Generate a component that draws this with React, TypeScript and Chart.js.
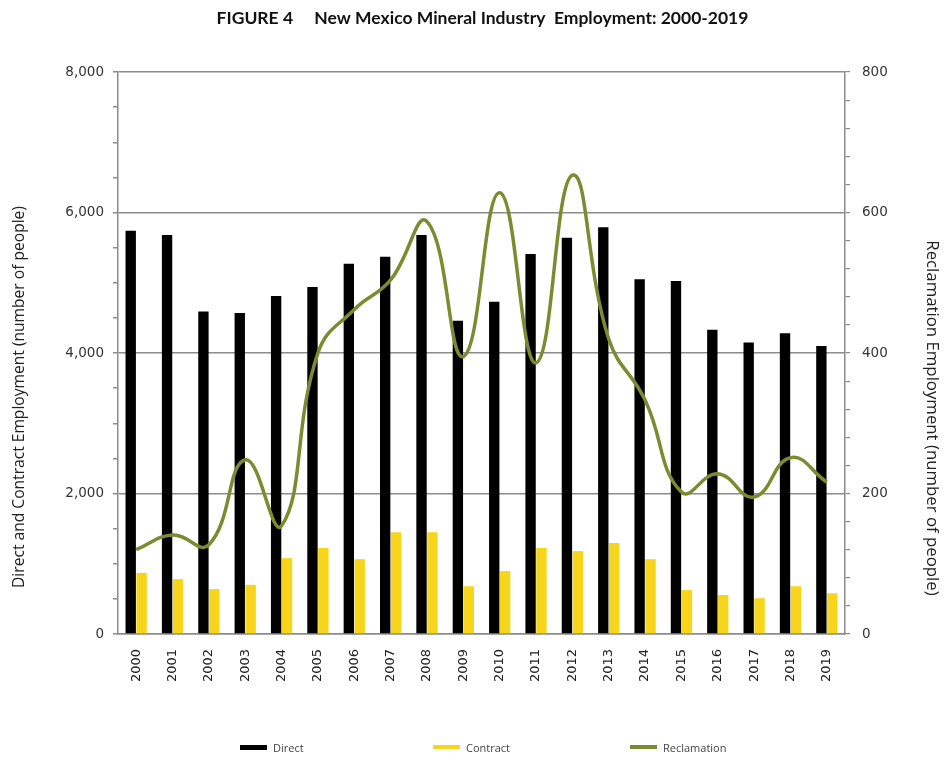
import React, { useEffect, useRef } from "react";
import { Chart, registerables } from "chart.js";

Chart.register(...registerables);

const years = ["2000","2001","2002","2003","2004","2005","2006","2007","2008","2009","2010","2011","2012","2013","2014","2015","2016","2017","2018","2019"];
const direct = [5740, 5680, 4590, 4570, 4810, 4940, 5270, 5370, 5680, 4460, 4730, 5410, 5640, 5790, 5050, 5025, 4330, 4150, 4280, 4100];
const contract = [870, 780, 640, 700, 1080, 1225, 1065, 1450, 1450, 680, 895, 1225, 1180, 1295, 1065, 625, 555, 510, 680, 580];
const reclamation = [120, 141, 127, 248, 154, 400, 462, 504, 587, 395, 628, 386, 653, 420, 333, 202, 228, 195, 251, 216];

const titleText = "FIGURE 4     New Mexico Mineral Industry  Employment: 2000-2019";
const leftTitle = "Direct and Contract Employment (number of people)";
const rightTitle = "Reclamation Employment (number of people)";

const FONT = "Lato, 'Open Sans', sans-serif";
const TFONT = "'Open Sans', sans-serif";
const NFONT = "'DejaVu Sans', sans-serif";
const GRID = "#8c8c8c";
const OLIVE = "#7d8b30";
const YELLOW = "#f7d51a";

const axisTitles = {
  id: "axisTitles",
  afterDraw(chart: any) {
    const ctx = chart.ctx;
    ctx.save();
    ctx.font = `15.6px ${TFONT}`;
    ctx.fillStyle = "#222";
    ctx.textAlign = "center";
    ctx.textBaseline = "middle";
    ctx.translate(20, 397);
    ctx.rotate(-Math.PI / 2);
    ctx.fillText(leftTitle, 0, 0);
    ctx.restore();
    ctx.save();
    ctx.font = `16.8px ${TFONT}`;
    ctx.fillStyle = "#222";
    ctx.textAlign = "center";
    ctx.textBaseline = "middle";
    ctx.translate(932, 418);
    ctx.rotate(Math.PI / 2);
    ctx.fillText(rightTitle, 0, 0);
    ctx.restore();
  },
};

export default function App() {
  const ref = useRef<HTMLCanvasElement>(null);
  useEffect(() => {
    if (!ref.current) return;
    const chart = new Chart(ref.current, {
      type: "bar",
      data: {
        labels: years,
        datasets: [
          {
            type: "line",
            label: "Reclamation",
            data: reclamation,
            yAxisID: "y1",
            borderColor: OLIVE,
            backgroundColor: OLIVE,
            borderWidth: 3.5,
            pointRadius: 0,
            tension: 0.45,
            order: 0,
          } as any,
          {
            label: "Direct",
            data: direct,
            yAxisID: "y",
            backgroundColor: "#000000",
            categoryPercentage: 0.6,
            barPercentage: 0.95,
            order: 1,
          },
          {
            label: "Contract",
            data: contract,
            yAxisID: "y",
            backgroundColor: YELLOW,
            categoryPercentage: 0.6,
            barPercentage: 0.95,
            order: 1,
          },
        ],
      },
      options: {
        animation: false,
        responsive: false,
        layout: { padding: { left: 18, right: 0, top: 0, bottom: 0 } },
        plugins: {
          legend: { display: false },
          tooltip: { enabled: false },
          title: {
            display: true,
            text: titleText,
            font: { family: FONT, size: 17.5, weight: "bold" },
            color: "#111",
            padding: { top: 8, bottom: 43 },
          },
        },
        scales: {
          x: {
            grid: { display: false },
            border: { display: true, color: GRID, width: 1.5 },
            ticks: {
              autoSkip: false,
              maxRotation: 90,
              minRotation: 90,
              padding: 7,
              color: "#222",
              font: { family: NFONT, size: 13 },
            },
            afterFit: (s: any) => { s.height = 123; },
          },
          y: {
            position: "left",
            min: 0,
            max: 8000,
            grid: {
              color: (c: any) => (c.tick && c.tick.value % 2000 === 0 ? GRID : "rgba(0,0,0,0)"),
              tickColor: GRID,
              lineWidth: 1.5,
              tickLength: 5,
            },
            border: { display: true, color: GRID, width: 1.5 },
            ticks: {
              stepSize: 500,
              autoSkip: false,
              padding: 9,
              color: "#333",
              font: { family: NFONT, size: 13.5 },
              callback: (v: any) => (Number(v) % 2000 === 0 ? Number(v).toLocaleString("en-US") : ""),
            },
            afterFit: (s: any) => { s.width = 100; },
          },
          y1: {
            position: "right",
            min: 0,
            max: 800,
            grid: { drawOnChartArea: false, color: GRID, tickColor: GRID, tickLength: 5, lineWidth: 1.2 },
            border: { display: true, color: GRID, width: 1.5 },
            ticks: {
              stepSize: 40,
              autoSkip: false,
              padding: 12,
              color: "#333",
              font: { family: NFONT, size: 13.5 },
              callback: (v: any) => (Number(v) % 200 === 0 ? String(v) : ""),
            },
            afterFit: (s: any) => { s.width = 102; },
          },
        },
      } as any,
      plugins: [axisTitles],
    });
    return () => chart.destroy();
  }, []);

  const legendItems = [
    { label: "Direct", color: "#000", left: 240, h: 5 },
    { label: "Contract", color: YELLOW, left: 433, h: 4 },
    { label: "Reclamation", color: OLIVE, left: 630, h: 4 },
  ];

  return (
    <div style={{ position: "fixed", left: 0, top: 0, width: 947, height: 757, background: "#fff" }}>
      <canvas ref={ref} width={947} height={757} style={{ position: "absolute", left: 0, top: 0 }} />
      {legendItems.map((it) => (
        <div key={it.label} style={{ position: "absolute", left: it.left, top: 739, height: 16, display: "flex", alignItems: "center", fontFamily: TFONT, fontSize: 11, color: "#444" }}>
          <span style={{ display: "inline-block", width: 27, height: it.h, background: it.color, marginRight: 6 }} />
          <span>{it.label}</span>
        </div>
      ))}
    </div>
  );
}
